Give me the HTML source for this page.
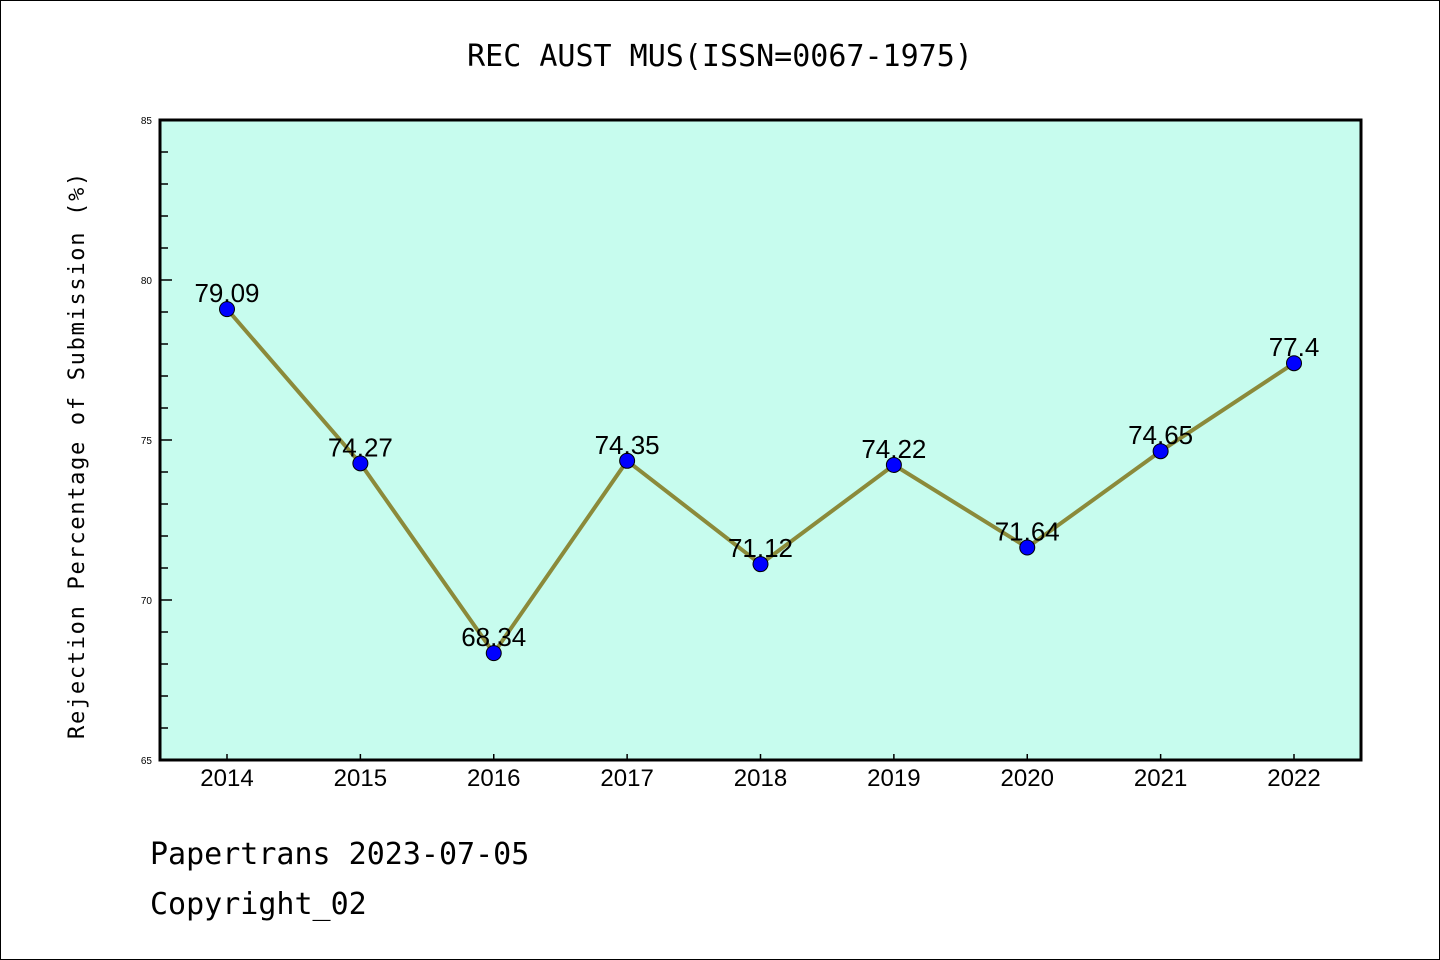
<!DOCTYPE html>
<html><head><meta charset="utf-8"><style>
html,body{margin:0;padding:0;background:#fff}
svg{display:block;font-family:"Liberation Sans","WenQuanYi Zen Hei",sans-serif}
</style></head><body>
<svg width="1440" height="960" viewBox="0 0 1440 960">
<rect x="0.5" y="0.5" width="1439" height="959" fill="#fff" stroke="#000"/>
<text x="720" y="66" text-anchor="middle" font-size="30" font-family="'WenQuanYi Zen Hei',monospace">REC AUST MUS(ISSN=0067-1975)</text>
<rect x="160" y="120" width="1201" height="640" fill="#c7fcee"/>
<g id="axes"></g>
<g id="marks"></g>
<rect x="160" y="120" width="1201" height="640" fill="none" stroke="#000" stroke-width="3"/>
<text transform="translate(84,455) rotate(-90)" text-anchor="middle" font-size="22" font-family="'WenQuanYi Zen Hei',monospace" letter-spacing="1.7">Rejection Percentage of Submission (%)</text>
<text x="150" y="864" font-size="30" font-family="'WenQuanYi Zen Hei',monospace">Papertrans 2023-07-05</text>
<text x="150" y="914" font-size="30" font-family="'WenQuanYi Zen Hei',monospace">Copyright_02</text>
</svg>
<script>
const years = ['2014','2015','2016','2017','2018','2019','2020','2021','2022'];
const rates = [79.09,74.27,68.34,74.35,71.12,74.22,71.64,74.65,77.4];
const labels = ['79.09','74.27','68.34','74.35','71.12','74.22','71.64','74.65','77.4'];
const yTicks = [65,70,75,80,85];
const yMin=65,yMax=85,plotTop=120,plotBot=760,plotLeft=160;
const x0=227,x1=1294;
function X(i){return x0+(x1-x0)*i/(years.length-1);}
function Y(v){return plotBot-(v-yMin)/(yMax-yMin)*(plotBot-plotTop);}
const NS='http://www.w3.org/2000/svg';
const ax=document.getElementById('axes'),mk=document.getElementById('marks');
function mkEl(t,a,p){const e=document.createElementNS(NS,t);for(const k in a)e.setAttribute(k,a[k]);p.appendChild(e);return e;}
for(let v=yMin;v<=yMax;v++){
  const major=yTicks.includes(v);
  const l=mkEl('line',{x1:plotLeft,x2:plotLeft+(major?12:8),y1:Y(v),y2:Y(v),stroke:'#000','stroke-width':1.5},ax);
  
  
}
yTicks.forEach(v=>{
  const t=mkEl('text',{x:152,y:Y(v)+4,'text-anchor':'end','font-size':10},ax);
  t.textContent=v;
  
  
});
years.forEach((y,i)=>{
  const l=mkEl('line',{x1:X(i),x2:X(i),y1:plotBot,y2:plotBot-6,stroke:'#000','stroke-width':1.5},ax);
  
  
  const t=mkEl('text',{x:X(i),y:plotBot+26,'text-anchor':'middle','font-size':24},ax);
  t.textContent=y;
  
  
});
const line=mkEl('polyline',{points:rates.map((v,i)=>X(i)+','+Y(v)).join(' '),fill:'none',stroke:'#8b8a3a','stroke-width':4},mk);


rates.forEach((v,i)=>{
  const c=mkEl('circle',{cx:X(i),cy:Y(v),r:7.5,fill:'#0000ff',stroke:'#000','stroke-width':1},mk);
  
  
  const t=mkEl('text',{x:X(i),y:Y(v)-7,'text-anchor':'middle','font-size':26},mk);
  t.textContent=labels[i];
  
  
});
</script>
</body></html>
